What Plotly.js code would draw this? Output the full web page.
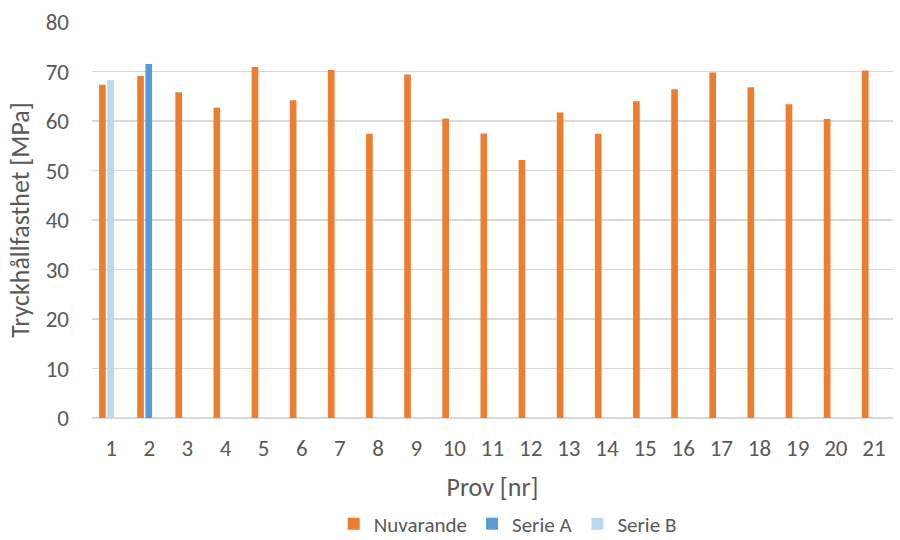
<!DOCTYPE html>
<html>
<head>
<meta charset="utf-8">
<script src="https://cdn.plot.ly/plotly-3.0.1.min.js"></script>
<style>html,body{margin:0;padding:0;background:#fff;}#chart{width:900px;height:540px;}</style>
</head>
<body>
<div id="chart"></div>
<script>
const categories = ['1','2','3','4','5','6','7','8','9','10','11','12','13','14','15','16','17','18','19','20','21'];
const nuvarande = [67.3, 69.1, 65.8, 62.7, 70.9, 64.2, 70.3, 57.4, 69.4, 60.5, 57.5, 52.1, 61.7, 57.4, 64.0, 66.4, 69.8, 66.8, 63.4, 60.4, 70.2];
const serieA = [null, 71.5, null, null, null, null, null, null, null, null, null, null, null, null, null, null, null, null, null, null, null];
const serieB = [68.3, null, null, null, null, null, null, null, null, null, null, null, null, null, null, null, null, null, null, null, null];
const yTicks = [0, 10, 20, 30, 40, 50, 60, 70, 80];

const font = "Carlito, Calibri, 'Open Sans', 'Liberation Sans', sans-serif";
const traces = [
  {type:'bar', name:'Nuvarande', x:categories, y:nuvarande, marker:{color:'#ED7D31', line:{width:0}}, offset:-0.315, width:0.175},
  {type:'bar', name:'Serie A', x:categories, y:serieA, marker:{color:'#5B9BD5', line:{width:0}}, offset:-0.1, width:0.175},
  {type:'bar', name:'Serie B', x:categories, y:serieB, marker:{color:'#BDD7EE', line:{width:0}}, offset:-0.1, width:0.175}
];
const layout = {
  width:900, height:540,
  margin:{l:92, r:7, t:22, b:122, autoexpand:false},
  barmode:'overlay',
  paper_bgcolor:'#fff', plot_bgcolor:'#fff',
  font:{family:font, color:'#595959', size:20},
  showlegend:true,
  legend:{orientation:'h', x:0.519, xanchor:'center', y:-0.268, yanchor:'middle', font:{size:21, color:'#595959'}, traceorder:'normal', itemwidth:30, tracegroupgap:0},
  xaxis:{type:'category', automargin:false, showgrid:false, zeroline:false, showline:false, ticks:'', ticklabelstandoff:14, tickfont:{size:23, color:'#595959'},
         title:{text:'Prov [nr]', font:{size:26, color:'#595959'}, standoff:16}},
  yaxis:{range:[0,80], automargin:false, tickvals:yTicks, showgrid:true, gridcolor:'#d9d9d9', gridwidth:1.5, zeroline:true, zerolinecolor:'#d9d9d9', zerolinewidth:1.5,
         showline:false, ticks:'', ticklabelstandoff:22, tickfont:{size:23, color:'#595959'},
         title:{text:'Tryckhållfasthet [MPa]', font:{size:26, color:'#595959'}, standoff:8}}
};
Plotly.newPlot('chart', traces, layout, {displayModeBar:false, staticPlot:true});
</script>
</body>
</html>
